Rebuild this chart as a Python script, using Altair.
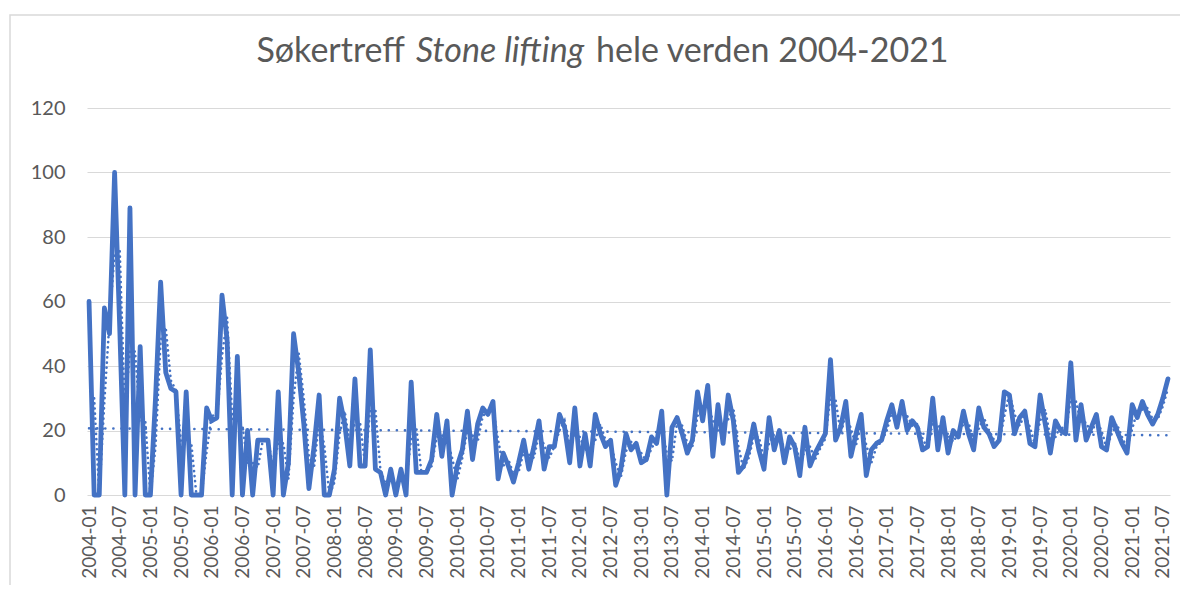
import altair as alt
import pandas as pd

# Monthly search interest, 2004-01 .. 2021-08
values = [
    60, 0, 0, 58, 50, 100, 52, 0, 89, 0, 46, 0,
    0, 30, 66, 38, 33, 32, 0, 32, 0, 0, 0, 27,
    23, 24, 62, 48, 0, 43, 0, 20, 0, 17, 17, 17,
    0, 32, 0, 10, 50, 38, 22, 2, 15, 31, 0, 0,
    8, 30, 22, 9, 36, 9, 9, 45, 8, 7, 0, 8,
    0, 8, 0, 35, 7, 7, 7, 11, 25, 12, 23, 0,
    9, 14, 26, 11, 22, 27, 25, 29, 5, 13, 9, 4,
    10, 17, 8, 15, 23, 8, 15, 15, 25, 21, 10, 27,
    9, 19, 9, 25, 19, 15, 17, 3, 8, 19, 14, 16,
    10, 11, 18, 16, 26, 0, 21, 24, 19, 13, 17, 32,
    23, 34, 12, 28, 16, 31, 23, 7, 9, 14, 22, 14,
    8, 24, 14, 20, 10, 18, 15, 6, 21, 9, 13, 16,
    19, 42, 17, 21, 29, 12, 19, 25, 6, 14, 16, 17,
    23, 28, 21, 29, 20, 23, 21, 14, 15, 30, 14, 24,
    13, 20, 18, 26, 19, 14, 27, 21, 19, 15, 17, 32,
    31, 19, 24, 26, 16, 15, 31, 22, 13, 23, 20, 19,
    41, 17, 28, 17, 21, 25, 15, 14, 24, 20, 16, 13,
    28, 24, 29, 25, 22, 25, 30, 36,
]
start_year = 2004
y_ticks = [0, 20, 40, 60, 80, 100, 120]
title_parts = ["Søkertreff", "Stone lifting", "hele verden 2004-2021"]

df = pd.DataFrame({"idx": list(range(len(values))), "value": values})
x_ticks = list(range(0, len(values), 6))

blue = "#4472C4"
text_gray = "#595959"
grid_gray = "#D9D9D9"
font = "Lato"

label_expr = (
    f"toString(floor(datum.value/12)+{start_year}) + '-' + "
    "(datum.value%12 < 9 ? '0' : '') + toString(datum.value%12+1)"
)

x_scale = alt.Scale(domain=[-0.4, len(values) - 0.6], nice=False, zero=False)
y_scale = alt.Scale(domain=[0, 120], nice=False)

x_axis = alt.Axis(
    values=x_ticks, labelExpr=label_expr, labelAngle=270, grid=False,
    ticks=False, domain=False, title=None, labelFontSize=19,
    labelColor=text_gray, labelFont=font, labelPadding=10,
    labelOverlap=False, labelBound=False, labelFlush=False,
)
y_axis = alt.Axis(
    values=y_ticks, grid=True, gridColor=grid_gray, gridWidth=1.2,
    domain=False, ticks=False, title=None, labelFontSize=20,
    labelColor=text_gray, labelFont=font, labelPadding=22,
)

base = alt.Chart(df)

main = base.mark_line(color=blue, strokeWidth=4.8, strokeJoin="round", strokeCap="round").encode(
    x=alt.X("idx:Q", scale=x_scale, axis=x_axis),
    y=alt.Y("value:Q", scale=y_scale, axis=y_axis),
)

mavg = base.transform_window(
    ma="mean(value)", frame=[-1, 0]
).transform_filter("datum.idx > 0").mark_line(
    color=blue, strokeWidth=2.6, strokeDash=[0.1, 5], strokeCap="round"
).encode(
    x=alt.X("idx:Q", scale=x_scale, axis=x_axis),
    y=alt.Y("ma:Q", scale=y_scale, axis=y_axis),
)

trend = base.transform_regression("idx", "value", method="linear").mark_line(
    color=blue, strokeWidth=2.6, strokeDash=[0.1, 8], strokeCap="round"
).encode(
    x=alt.X("idx:Q", scale=x_scale, axis=x_axis),
    y=alt.Y("value:Q", scale=y_scale, axis=y_axis),
)

tdf = pd.DataFrame({"t": title_parts})
t1 = alt.Chart(tdf).transform_filter(f"datum.t == '{title_parts[0]}'").mark_text(
    font=font, fontSize=34, color=text_gray, align="right", baseline="middle"
).encode(text="t:N", x=alt.value(318), y=alt.value(-56))
t2 = alt.Chart(tdf).transform_filter(f"datum.t == '{title_parts[1]}'").mark_text(
    font=font, fontSize=34, color=text_gray, align="left", baseline="middle", fontStyle="italic"
).encode(text="t:N", x=alt.value(329), y=alt.value(-56))
t3 = alt.Chart(tdf).transform_filter(f"datum.t == '{title_parts[2]}'").mark_text(
    font=font, fontSize=34, color=text_gray, align="left", baseline="middle"
).encode(text="t:N", x=alt.value(509), y=alt.value(-56))

border = alt.Chart(tdf.head(1)).mark_rect(
    fill=None, stroke=grid_gray, strokeWidth=1.5
).encode(x=alt.value(-77), x2=alt.value(1110), y=alt.value(-93), y2=alt.value(520))

chart = alt.layer(border, main, mavg, trend, t1, t2, t3).properties(
    width=1083,
    height=387,
    autosize=alt.AutoSizeParams(type="none"),
    padding={"left": 79, "top": 100, "right": 10, "bottom": 90},
    background="white",
).configure_view(stroke=None).configure_axisX(labelOverlap=False)

chart.save("out.html", embed_options={"renderer": "svg", "actions": False})
